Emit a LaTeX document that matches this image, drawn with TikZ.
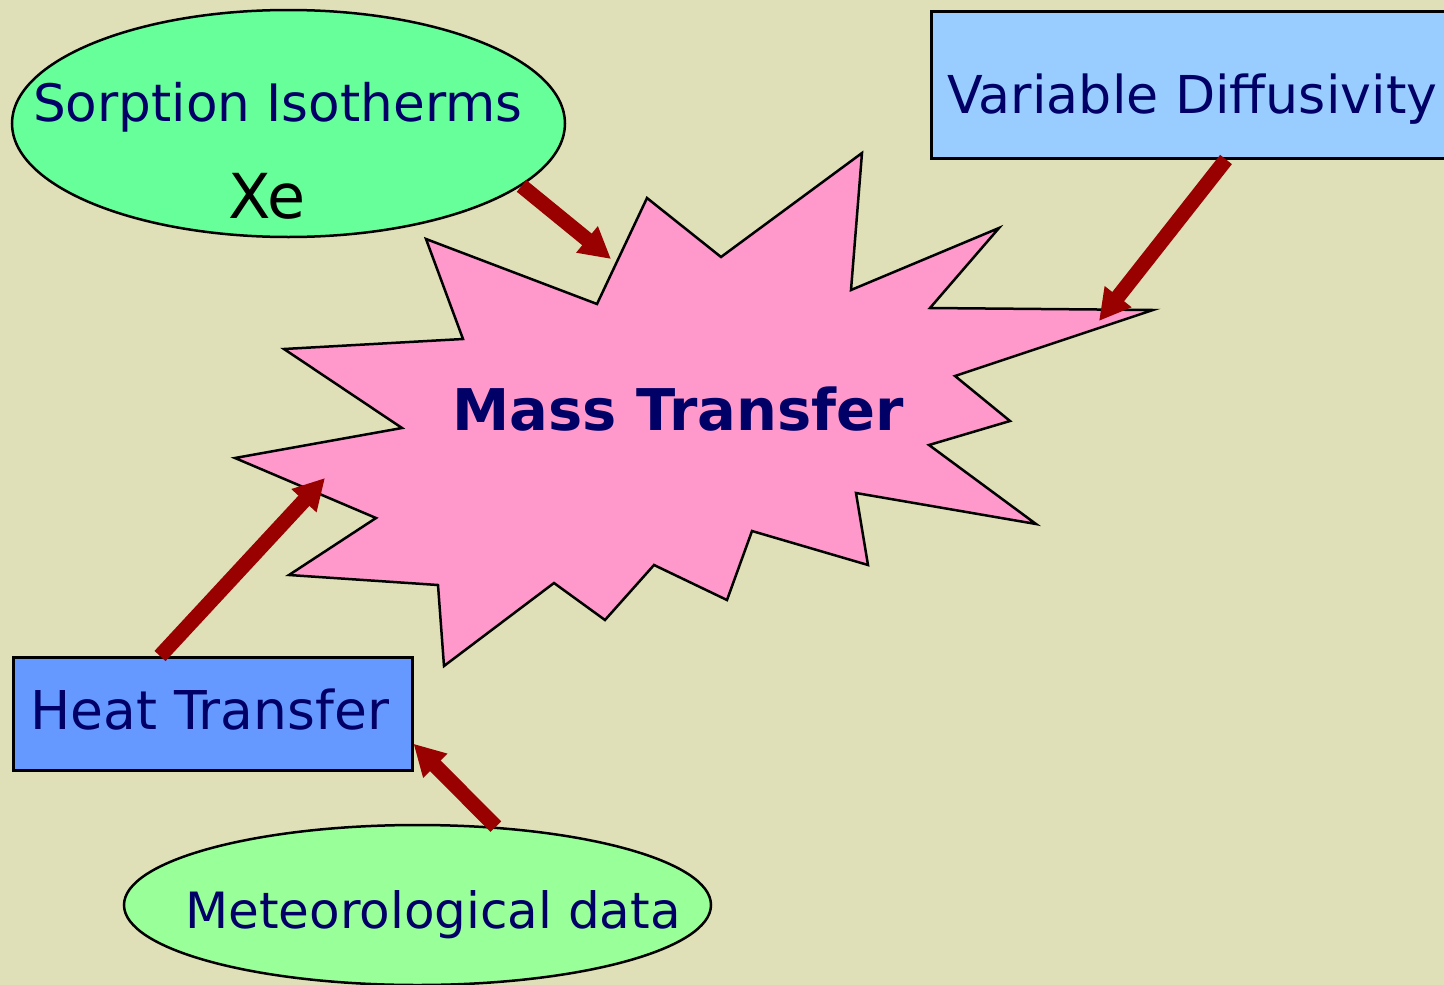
\documentclass[tikz,border=0pt]{standalone}
\usepackage{fontspec}
\setmainfont{DejaVu Sans}
\usetikzlibrary{arrows.meta,shapes.geometric}
\definecolor{khaki}{RGB}{224,224,184}
\definecolor{starpink}{RGB}{255,153,204}
\definecolor{sorpgreen}{RGB}{102,255,153}
\definecolor{metgreen}{RGB}{153,255,153}
\definecolor{vdblue}{RGB}{153,204,255}
\definecolor{heatblue}{RGB}{102,153,255}
\definecolor{navy}{RGB}{0,0,102}
\definecolor{arrowred}{RGB}{153,0,0}
\newcommand{\lblfont}[1]{\fontsize{#1}{#1}\selectfont}

\begin{document}
\begin{tikzpicture}[x=1pt,y=-1pt,
  bubble/.style={ellipse, draw=black, line width=2.5pt, inner sep=0pt},
  panel/.style={rectangle, draw=black, line width=2.5pt, inner sep=0pt, anchor=north west},
  lbl/.style={anchor=base west, inner sep=0pt, text=navy, font=\lblfont{51}},
  feed/.style={draw=arrowred, line width=15pt, -{Triangle[length=31pt,width=32pt]}}]
\useasboundingbox (0,0) rectangle (1444,985);
\fill[khaki] (0,0) rectangle (1444,985);
% the burst
\filldraw[fill=starpink, draw=black, line width=2.5pt]
  (647,198) -- (721,257) -- (862,153) -- (851,290) -- (999,228) -- (930,308)
  -- (1153,310) -- (955,376) -- (1010,421) -- (929,445) -- (1036,524)
  -- (856,493) -- (868,565) -- (752,531) -- (727,600) -- (654,565)
  -- (605,620) -- (554,583) -- (444,666) -- (438,585) -- (289,575)
  -- (376,518) -- (235,458) -- (402,428) -- (284,349) -- (463,339)
  -- (426,239) -- (597,304) -- cycle;
\node[lbl, font=\lblfont{57.5}\bfseries] (mass) at (452,430) {Mass Transfer};

\node[bubble, fill=sorpgreen, minimum width=553pt, minimum height=227pt] (sorp) at (288.5,123.5) {};
\node[lbl, font=\lblfont{51.6}] (sorptxt) at (33,121) {Sorption Isotherms};
\node[lbl, text=black, font=\lblfont{62}] (xe) at (228,218) {Xe};

\node[panel, fill=vdblue, minimum width=540pt, minimum height=147pt] (vdiff) at (930,10) {};
\node[lbl, font=\lblfont{52.2}] (vdifftxt) at (947,113) {Variable Diffusivity};

\node[panel, fill=heatblue, minimum width=399pt, minimum height=113pt] (heat) at (12,656) {};
\node[lbl, font=\lblfont{53.5}] (heattxt) at (30,729) {Heat Transfer};

\node[bubble, fill=metgreen, minimum width=587pt, minimum height=160pt] (met) at (417.5,905) {};
\node[lbl, font=\lblfont{50}] (mettxt) at (185,928) {Meteorological data};

\coordinate (tipA) at (611,259);
\coordinate (tipB) at (1099,321);
\coordinate (tipC) at (325,478);
\draw[feed] (sorp.-15) -- (tipA);
\draw[feed] ([xshift=296pt]vdiff.south west) -- (tipB);
\draw[feed] ([xshift=148pt]heat.north west) -- (tipC);
\draw[feed] (met.45) -- ([yshift=-30pt]heat.east);
\end{tikzpicture}
\end{document}
